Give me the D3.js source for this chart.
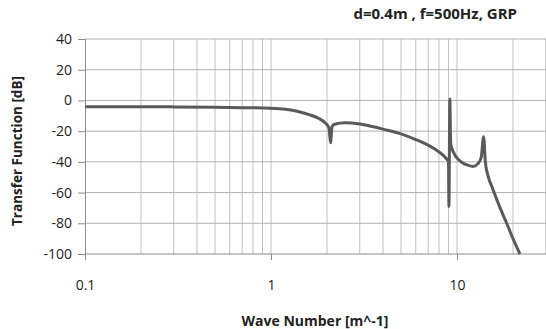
<!DOCTYPE html>
<html>
<head>
<meta charset="utf-8">
<script src="https://cdn.jsdelivr.net/npm/d3@7"></script>
<style>
  body { margin: 0; background: #fff; }
  text { font-family: "Open Sans", "Liberation Sans", sans-serif; }
</style>
</head>
<body>
<div id="chart"></div>
<script>

// wave number [m^-1]
var waveNumber = [0.1, 0.2, 0.3, 0.5, 0.7, 1.0, 1.2, 1.4, 1.6, 1.8, 1.95, 2.05, 2.09, 2.13, 2.2, 2.5,
    3.0, 3.5, 4.0, 5.0, 6.0, 7.0, 8.0, 8.7, 9.0, 9.05, 9.15, 9.25, 9.5, 10.4, 11.5, 12.2, 13.0,
    13.5, 13.9, 14.2, 14.7, 15.5, 16.9, 18.5, 20.0, 21.8];
// transfer function [dB]
var transfer = [-4.1, -4.1, -4.2, -4.4, -4.7, -5.1, -5.8, -7.2, -9.2, -11.6, -14.5, -18, -27.5, -17, -15.5, -14.5,
    -15.3, -17, -18.7, -21.8, -25.5, -29.2, -33.5, -37.5, -40, -69, 1, -28, -33, -39.5, -42.3, -43, -41,
    -37, -23.6, -40, -49.3, -57, -68.8, -80, -90, -100];

var yTicks = [40, 20, 0, -20, -40, -60, -80, -100];
var xTicks = [0.1, 1, 10];

var titleText = "d=0.4m , f=500Hz, GRP";
var xLabel = "Wave Number [m^-1]";
var yLabel = "Transfer Function [dB]";

var width = 546, height = 329;
var margin = {top: 39, left: 85, bottom: 75};

var svg = d3.select("#chart")
    .append("svg")
    .attr("width", width)
    .attr("height", height);

// log x axis runs 0.1 .. 100, the picture is cut off at the right
var x = d3.scaleLog()
    .domain([0.1, 100])
    .range([margin.left, margin.left + 3 * 186]);

var y = d3.scaleLinear()
    .domain([-100, 40])
    .range([254, margin.top]);

// minor + major vertical grid lines
var gridX = [];
[0.1, 1, 10].forEach(function(dec) {
    for (var i = 1; i <= 9; i++) gridX.push(dec * i);
});
gridX.push(100);

svg.append("g")
    .selectAll("line")
    .data(gridX.filter(function(d) { return d > 0.1; }))
    .enter()
    .append("line")
    .attr("x1", function(d) { return x(d); })
    .attr("x2", function(d) { return x(d); })
    .attr("y1", y(40))
    .attr("y2", y(-100))
    .attr("stroke", "#c0c0c0")
    .attr("stroke-width", 1);

svg.append("g")
    .selectAll("line")
    .data(yTicks.filter(function(d) { return d > -100; }))
    .enter()
    .append("line")
    .attr("x1", margin.left)
    .attr("x2", width)
    .attr("y1", function(d) { return y(d); })
    .attr("y2", function(d) { return y(d); })
    .attr("stroke", "#b0b0b0")
    .attr("stroke-width", 1);

// axes
var yAxis = svg.append("g")
    .attr("transform", "translate(" + margin.left + ",0)")
    .call(d3.axisLeft(y).tickValues(yTicks).tickSize(7).tickPadding(6).tickFormat(function(d) { return d + ""; }));

var xAxis = svg.append("g")
    .attr("transform", "translate(0," + y(-100) + ")")
    .call(d3.axisBottom(x).tickValues(xTicks).tickSize(6).tickPadding(20).tickFormat(function(d) { return d + ""; }));

[xAxis, yAxis].forEach(function(a) {
    a.select(".domain").attr("stroke", "#8c8c8c");
    a.selectAll(".tick line").attr("stroke", "#8c8c8c");
    a.selectAll(".tick text")
        .attr("fill", "#222")
        .style("font-size", "14px")
        .style("font-family", "'Open Sans', sans-serif");
});
xAxis.select(".domain").attr("d", "M" + margin.left + ",0H" + width);

// the curve
var line = d3.line()
    .x(function(d, i) { return x(waveNumber[i]); })
    .y(function(d) { return y(d); })
    .curve(d3.curveMonotoneX);

svg.append("path")
    .datum(transfer)
    .attr("d", line)
    .attr("fill", "none")
    .attr("stroke", "#5a5a5a")
    .attr("stroke-width", 3)
    .attr("stroke-linejoin", "round");

// title
svg.append("text")
    .attr("x", 517)
    .attr("y", 19)
    .attr("text-anchor", "end")
    .style("font-size", "15px")
    .style("font-weight", "bold")
    .attr("fill", "#222")
    .text(titleText);

// x label
svg.append("text")
    .attr("x", 315)
    .attr("y", 326)
    .attr("text-anchor", "middle")
    .style("font-size", "14px")
    .style("font-weight", "bold")
    .attr("fill", "#222")
    .text(xLabel);

// y label
svg.append("text")
    .attr("transform", "translate(22,151) rotate(-90)")
    .attr("text-anchor", "middle")
    .style("font-size", "13.5px")
    .style("font-weight", "bold")
    .attr("fill", "#222")
    .text(yLabel);

</script>
</body>
</html>
